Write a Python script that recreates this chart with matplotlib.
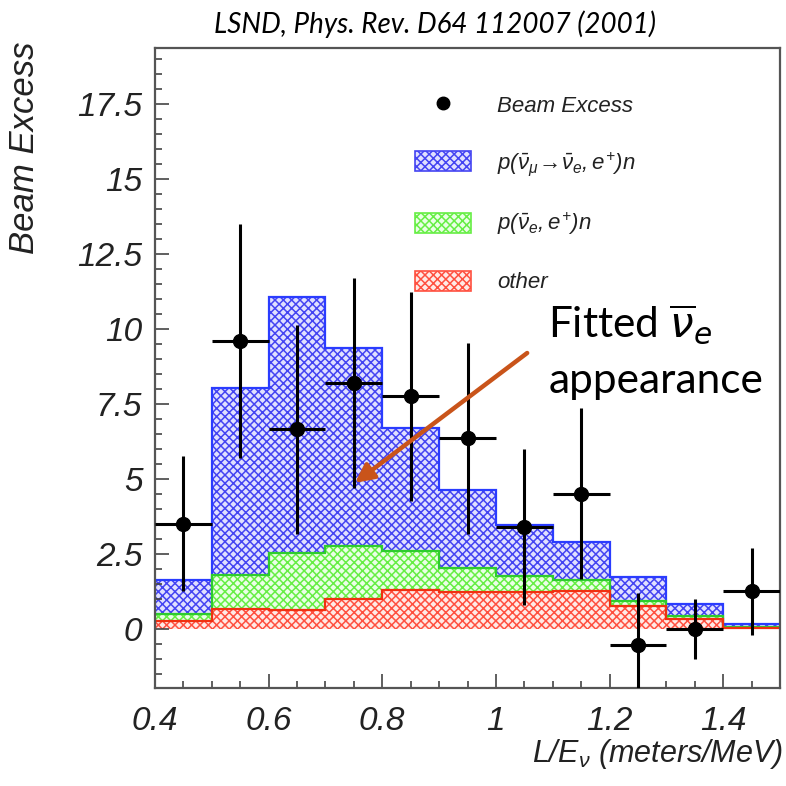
import numpy as np
import matplotlib
matplotlib.use("Agg")
import matplotlib.pyplot as plt
from matplotlib.lines import Line2D
from matplotlib.patches import Patch
from matplotlib.legend_handler import HandlerLine2D
from matplotlib.ticker import MultipleLocator, FuncFormatter

plt.rcParams["font.family"] = ["Liberation Sans", "DejaVu Sans"]
plt.rcParams["font.style"] = "italic"
plt.rcParams["mathtext.fontset"] = "custom"
plt.rcParams["mathtext.rm"] = "Liberation Sans:italic"
plt.rcParams["mathtext.it"] = "Liberation Sans:italic"
plt.rcParams["mathtext.sf"] = "Liberation Sans:italic"
plt.rcParams["hatch.linewidth"] = 1.1

# 数据：L/E 分箱边界与各分量
bin_edges = [0.4, 0.5, 0.6, 0.7, 0.8, 0.9, 1.0, 1.1, 1.2, 1.3, 1.4, 1.5]
other = [0.28, 0.65, 0.63, 1.01, 1.30, 1.24, 1.22, 1.25, 0.77, 0.32, 0.03]
nue_bkg = [0.21, 1.15, 1.90, 1.75, 1.31, 0.80, 0.53, 0.38, 0.16, 0.12, 0.04]
osc_signal = [1.13, 6.22, 8.55, 6.62, 4.09, 2.58, 1.70, 1.27, 0.79, 0.39, 0.10]
beam_excess = [3.5, 9.6, 6.65, 8.2, 7.75, 6.35, 3.4, 4.5, -0.55, 0.0, 1.25]
excess_err = [2.25, 3.9, 3.5, 3.5, 3.5, 3.2, 2.6, 2.85, 1.75, 1.0, 1.45]

legend_labels = ["Beam Excess",
                 r"$p(\bar{\nu}_{\mu}\!\rightarrow\!\bar{\nu}_{e},e^{+})n$",
                 r"$p(\bar{\nu}_{e},e^{+})n$",
                 "other"]

edges = np.array(bin_edges)
centers = (edges[:-1] + edges[1:]) / 2
half_w = (edges[1:] - edges[:-1]) / 2
red_top = np.array(other)
green_top = red_top + np.array(nue_bkg)
blue_top = green_top + np.array(osc_signal)

blue_hatch, blue_line, blue_face = "#4444f2", "#2a3cff", "#e0e0ff"
green_hatch, green_line, green_face = "#66ee44", "#2ecc2e", "#eaffe6"
red_hatch, red_line, red_face = "#ff5040", "#f03010", "#ffeae6"
hatch = "xxxx"


class DotRight(HandlerLine2D):
    # 图例中的圆点放在右侧
    def get_xdata(self, legend, xdescent, ydescent, width, height, fontsize):
        xdata = np.array([-xdescent, -xdescent + width])
        return xdata, np.array([-xdescent + width * 0.93])


fig = plt.figure(figsize=(7.86, 7.86), dpi=100)
ax = fig.add_axes([155 / 786, 1 - 688 / 786, 625 / 786, 640 / 786])

# 堆叠直方图（网格填充）
layers = [(green_top, blue_top, blue_hatch, blue_face),
          (red_top, green_top, green_hatch, green_face),
          (np.zeros_like(red_top), red_top, red_hatch, red_face)]
for low, high, hcol, face in layers:
    ax.stairs(high, edges, baseline=low, fill=True, facecolor=face,
              edgecolor=hcol, hatch=hatch, linewidth=0, zorder=1)
for high, lcol in [(blue_top, blue_line), (green_top, green_line), (red_top, red_line)]:
    ax.stairs(high, edges, baseline=None, color=lcol, linewidth=1.6, zorder=2)

ax.errorbar(centers, beam_excess, xerr=half_w, yerr=excess_err, fmt="o",
            color="black", markersize=10, elinewidth=2.2, capsize=0, zorder=3)

ax.set_xlim(0.4, 1.5)
ax.set_ylim(-1.97, 19.37)
ax.xaxis.set_major_locator(MultipleLocator(0.2))
ax.xaxis.set_minor_locator(MultipleLocator(0.05))
ax.yaxis.set_major_locator(MultipleLocator(2.5))
ax.yaxis.set_minor_locator(MultipleLocator(0.5))
ax.xaxis.set_major_formatter(FuncFormatter(lambda v, p: f"{v:g}"))
ax.yaxis.set_major_formatter(FuncFormatter(lambda v, p: f"{v:g}"))
ax.tick_params(which="both", direction="in", color="#444444", width=1.2)
ax.tick_params(which="major", length=10, labelsize=24, labelcolor="#222222")
ax.tick_params(which="minor", length=5)
ax.tick_params(axis="x", which="major", pad=13)
ax.tick_params(axis="y", which="major", pad=9)
for sp in ax.spines.values():
    sp.set_color("#555555")
    sp.set_linewidth(1.6)

# 图例
handles = [Line2D([], [], ls="none", marker="o", color="black", markersize=9),
           Patch(facecolor=blue_face, edgecolor=blue_hatch, hatch=hatch, lw=1.2),
           Patch(facecolor=green_face, edgecolor=green_hatch, hatch=hatch, lw=1.2),
           Patch(facecolor=red_face, edgecolor=red_hatch, hatch=hatch, lw=1.2)]
ax.legend(handles, legend_labels, loc="upper left", bbox_to_anchor=(0.416, 0.928),
          frameon=False, fontsize=16, labelspacing=1.5, handlelength=2.5,
          handleheight=1.0, handletextpad=1.2, borderpad=0, borderaxespad=0,
          labelcolor="#222222", handler_map={handles[0]: DotRight(numpoints=1)})

# 箭头与说明文字
ax.annotate("", xy=(0.752, 4.87), xytext=(1.055, 9.2),
            arrowprops=dict(arrowstyle="-|>", lw=3.2, color="#C9541A",
                            mutation_scale=28, shrinkA=0, shrinkB=0), zorder=4)
ax.text(1.092, 9.73, r"Fitted $\overline{\mathrm{\nu}}_{e}$", fontsize=30.5,
        family="Lato", style="normal", math_fontfamily="dejavusans", va="baseline",
        ha="left", clip_on=False, zorder=5)
ax.text(1.092, 7.87, "appearance", fontsize=30.5, family="Lato", style="normal",
        va="baseline", ha="left", clip_on=False, zorder=5)

fig.text(435 / 786, 1 - 33 / 786, "LSND, Phys. Rev. D64 112007 (2001)",
         family="Lato", style="italic", fontsize=20, ha="center", va="baseline")
fig.text(25 / 786, 1 - 42 / 786, "Beam Excess", rotation=90, fontsize=25,
         ha="center", va="top", color="#222222")
fig.text(783 / 786, 1 - 762 / 786, r"L/E$_{\nu}$ (meters/MeV)", fontsize=22,
         ha="right", va="baseline", color="#222222")

fig.savefig("out.png", dpi=100)
